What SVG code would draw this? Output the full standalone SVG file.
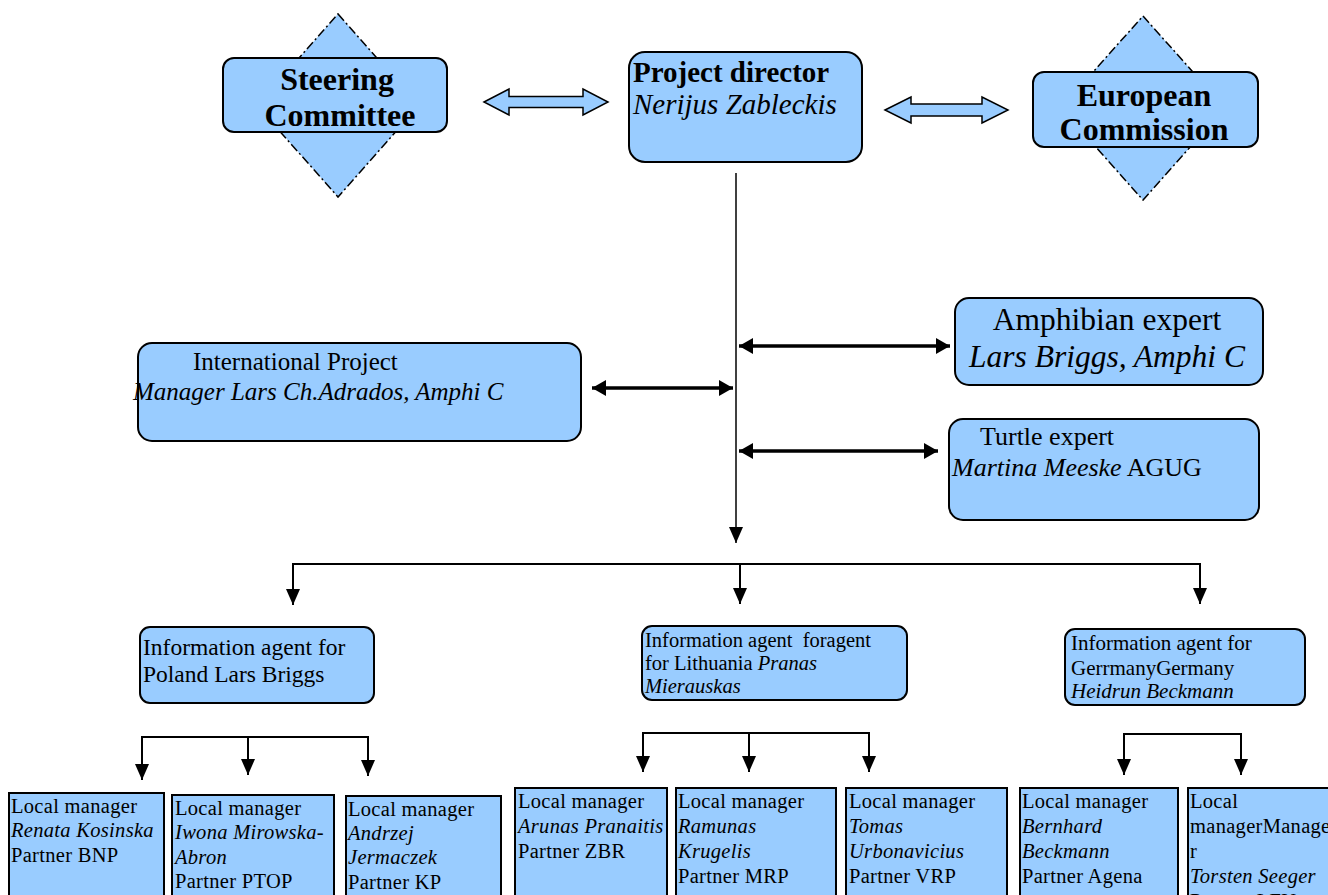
<svg xmlns="http://www.w3.org/2000/svg" width="1328" height="895" viewBox="0 0 1328 895">
<style>
.box{fill:#99ccff;stroke:#000;stroke-width:2}
.dia{fill:#99ccff;stroke:#000;stroke-width:1.5;stroke-dasharray:9 3 2 3}
.t{font-family:"Liberation Serif","Times New Roman",serif;fill:#000}
.b{font-weight:bold}
.i{font-style:italic}
.lm{font-size:20.5px;letter-spacing:0.3px}
.ln{fill:none;stroke:#000;stroke-width:2}
.thick{fill:none;stroke:#000;stroke-width:3.5}
.blk{fill:#99ccff;stroke:#000;stroke-width:1.5}
</style>
<defs>
<marker id="ah" viewBox="0 0 16 14" refX="16" refY="7" markerWidth="16" markerHeight="14" markerUnits="userSpaceOnUse" orient="auto-start-reverse"><path d="M0,0 L16,7 L0,14 Z" fill="#000"/></marker>
<marker id="ah2" viewBox="0 0 14 16" refX="14" refY="8" markerWidth="14" markerHeight="16" markerUnits="userSpaceOnUse" orient="auto-start-reverse"><path d="M0,0 L14,8 L0,16 Z" fill="#000"/></marker>
</defs>

<g id="connectors">
<polygon class="blk" points="484,102 509,89 509,96.5 583,96.5 583,89 608,102 583,115 583,107.5 509,107.5 509,115"/>
<polygon class="blk" points="885,110 911,97 911,104 982,104 982,97 1008,110 982,123 982,116 911,116 911,123"/>
<line x1="736" y1="173" x2="736" y2="543" stroke="#000" stroke-width="1.5" marker-end="url(#ah)"/>
<line class="thick" x1="739" y1="346" x2="950" y2="346" marker-start="url(#ah2)" marker-end="url(#ah2)"/>
<line class="thick" x1="592" y1="388" x2="733" y2="388" marker-start="url(#ah2)" marker-end="url(#ah2)"/>
<line class="thick" x1="739" y1="451" x2="938" y2="451" marker-start="url(#ah2)" marker-end="url(#ah2)"/>
<polyline class="ln" points="293,605 293,564 1200,564 1200,604" marker-start="url(#ah)" marker-end="url(#ah)"/>
<line class="ln" x1="740" y1="564" x2="740" y2="604" marker-end="url(#ah)"/>
<polyline class="ln" points="142,780 142,737 368,737 368,776" marker-start="url(#ah)" marker-end="url(#ah)"/>
<line class="ln" x1="248" y1="737" x2="248" y2="775" marker-end="url(#ah)"/>
<polyline class="ln" points="643,772 643,733 869,733 869,772" marker-start="url(#ah)" marker-end="url(#ah)"/>
<line class="ln" x1="749" y1="733" x2="749" y2="772" marker-end="url(#ah)"/>
<polyline class="ln" points="1124,775 1124,734 1241,734 1241,775" marker-start="url(#ah)" marker-end="url(#ah)"/>
</g>

<g id="steering">
<polygon class="dia" points="338,14 419,105.5 338,197 257,105.5"/>
<rect class="box" x="223" y="58" width="224" height="74" rx="11"/>
<text class="t b" font-size="32" x="337" y="90" text-anchor="middle">Steering</text>
<text class="t b" font-size="32" x="340" y="126" text-anchor="middle">Committee</text>
</g>

<g id="director">
<rect class="box" x="629" y="52" width="233" height="110" rx="16"/>
<text class="t b" font-size="29" x="633" y="82">Project director</text>
<text class="t i" font-size="29" x="633" y="114">Nerijus Zableckis</text>
</g>

<g id="commission">
<polygon class="dia" points="1143,16 1225,108 1143,200 1061,108"/>
<rect class="box" x="1033" y="72" width="225" height="75" rx="11"/>
<text class="t b" font-size="32" x="1144" y="106" text-anchor="middle">European</text>
<text class="t b" font-size="32" x="1144" y="140" text-anchor="middle">Commission</text>
</g>

<g id="amphibian">
<rect class="box" x="955" y="298" width="308" height="87" rx="14"/>
<text class="t" font-size="31.5" x="1107" y="330" text-anchor="middle">Amphibian expert</text>
<text class="t i" font-size="31.5" x="1107" y="367" text-anchor="middle">Lars Briggs, Amphi C</text>
</g>

<g id="intl">
<rect class="box" x="138" y="343" width="443" height="98" rx="14"/>
<text class="t" font-size="25" x="193" y="370">International Project</text>
<text class="t i" font-size="25" x="133" y="400">Manager Lars Ch.Adrados, Amphi C</text>
</g>

<g id="turtle">
<rect class="box" x="949" y="419" width="310" height="101" rx="14"/>
<text class="t" font-size="26" x="980" y="445">Turtle expert</text>
<text class="t" font-size="26" x="952" y="476"><tspan class="i">Martina Meeske</tspan> AGUG</text>
</g>

<g id="agent-poland">
<rect class="box" x="140" y="627" width="234" height="76" rx="10"/>
<text class="t" font-size="23.5" x="143" y="655">Information agent for</text>
<text class="t" font-size="23.5" x="143" y="682">Poland Lars Briggs</text>
</g>

<g id="agent-lithuania">
<rect class="box" x="642" y="626" width="265" height="74" rx="10"/>
<text class="t" font-size="20.5" x="645" y="647" xml:space="preserve">Information agent  foragent</text>
<text class="t" font-size="20.5" x="645" y="670">for Lithuania <tspan class="i">Pranas</tspan></text>
<text class="t i" font-size="20.5" x="645" y="693">Mierauskas</text>
</g>

<g id="agent-germany">
<rect class="box" x="1065" y="629" width="240" height="76" rx="10"/>
<text class="t" font-size="21" x="1071" y="650">Information agent for</text>
<text class="t" font-size="21" x="1071" y="675">GerrmanyGermany</text>
<text class="t i" font-size="21" x="1071" y="698">Heidrun Beckmann</text>
</g>

<g id="lm-kosinska">
<rect class="box" x="9" y="793" width="155" height="120"/>
<text class="t lm" x="11" y="813">Local manager</text>
<text class="t lm i" x="11" y="837">Renata Kosinska</text>
<text class="t lm" x="11" y="862">Partner BNP</text>
</g>

<g id="lm-mirowska">
<rect class="box" x="172" y="795" width="162" height="120"/>
<text class="t lm" x="175" y="815">Local manager</text>
<text class="t lm i" x="175" y="839">Iwona Mirowska-</text>
<text class="t lm i" x="175" y="864">Abron</text>
<text class="t lm" x="175" y="888">Partner PTOP</text>
</g>

<g id="lm-jermaczek">
<rect class="box" x="346" y="796" width="155" height="120"/>
<text class="t lm" x="348" y="816">Local manager</text>
<text class="t lm i" x="348" y="840">Andrzej</text>
<text class="t lm i" x="348" y="864">Jermaczek</text>
<text class="t lm" x="348" y="889">Partner KP</text>
</g>

<g id="lm-pranaitis">
<rect class="box" x="515" y="788" width="152" height="120"/>
<text class="t lm" x="518" y="808">Local manager</text>
<text class="t lm i" x="518" y="833">Arunas Pranaitis</text>
<text class="t lm" x="518" y="858">Partner ZBR</text>
</g>

<g id="lm-krugelis">
<rect class="box" x="676" y="788" width="160" height="120"/>
<text class="t lm" x="678" y="808">Local manager</text>
<text class="t lm i" x="678" y="833">Ramunas</text>
<text class="t lm i" x="678" y="858">Krugelis</text>
<text class="t lm" x="678" y="883">Partner MRP</text>
</g>

<g id="lm-urbonavicius">
<rect class="box" x="846" y="788" width="161" height="120"/>
<text class="t lm" x="849" y="808">Local manager</text>
<text class="t lm i" x="849" y="833">Tomas</text>
<text class="t lm i" x="849" y="858">Urbonavicius</text>
<text class="t lm" x="849" y="883">Partner VRP</text>
</g>

<g id="lm-beckmann">
<rect class="box" x="1020" y="788" width="158" height="120"/>
<text class="t lm" x="1022" y="808">Local manager</text>
<text class="t lm i" x="1022" y="833">Bernhard</text>
<text class="t lm i" x="1022" y="858">Beckmann</text>
<text class="t lm" x="1022" y="883">Partner Agena</text>
</g>

<g id="lm-seeger">
<rect class="box" x="1188" y="788" width="160" height="130"/>
<text class="t lm" x="1190" y="808">Local</text>
<text class="t lm" x="1190" y="833">managerManage</text>
<text class="t lm" x="1190" y="858">r</text>
<text class="t lm i" x="1190" y="883">Torsten Seeger</text>
<text class="t lm" x="1190" y="908">Partner LFU</text>
</g>
</svg>
